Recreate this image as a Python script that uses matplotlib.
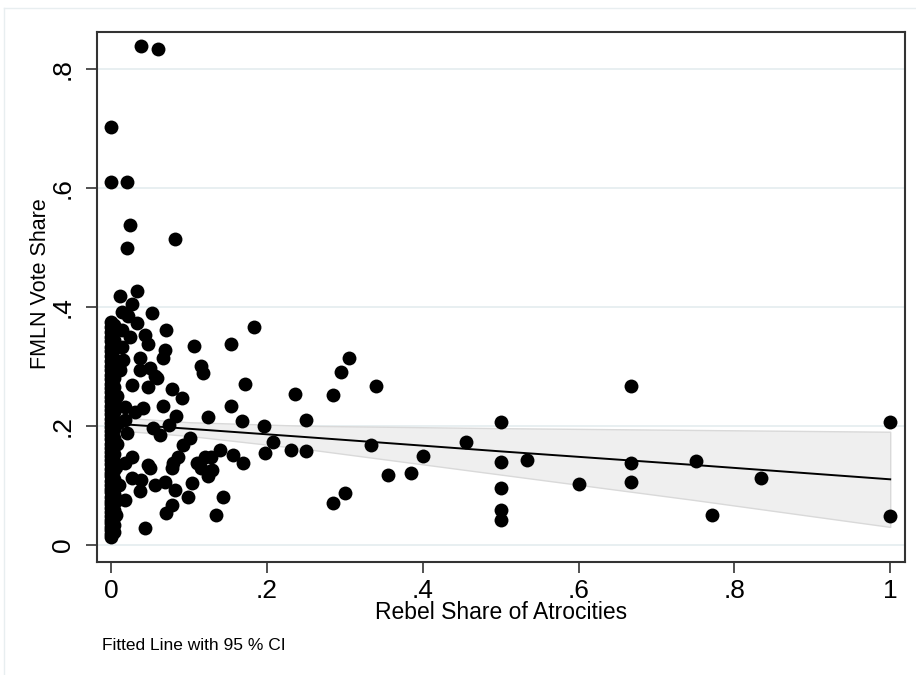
import numpy as np
import matplotlib.pyplot as plt
from matplotlib.lines import Line2D

plt.rcParams['font.family'] = ['Liberation Sans', 'DejaVu Sans']

# rebel share of atrocities (x) and FMLN vote share (y)
rebel_share = [
    # municipalities with zero rebel share
    0, 0, 0, 0, 0, 0, 0, 0, 0, 0, 0, 0, 0, 0, 0, 0, 0, 0,
    0, 0, 0, 0, 0, 0, 0, 0, 0, 0, 0, 0, 0, 0, 0, 0, 0, 0,
    0, 0, 0, 0, 0, 0, 0, 0, 0, 0, 0, 0, 0, 0, 0, 0, 0, 0,
    0.004, 0.004, 0.004, 0.004, 0.004, 0.004, 0.004, 0.004, 0.004, 0.004,
    0.004, 0.004, 0.004, 0.004, 0.004, 0.004, 0.004, 0.004, 0.004, 0.004,
    0.004, 0.004, 0.004, 0.004, 0.004, 0.004,
    0.006, 0.008, 0.008, 0.010, 0.009, 0.007, 0.010, 0.008,
    # close to zero
    0.012, 0.033, 0.027, 0.014, 0.022, 0.033, 0.014, 0.024, 0.014, 0.016,
    0.012, 0.037, 0.027, 0.018, 0.031, 0.018, 0.020, 0.027, 0.018, 0.027,
    0.018, 0.020, 0.024, 0.020,
    # small shares
    0.039, 0.060, 0.082,
    0.052, 0.071, 0.044, 0.048, 0.106, 0.069, 0.067, 0.037, 0.116, 0.118,
    0.050, 0.056, 0.048, 0.059, 0.078, 0.091, 0.067, 0.041, 0.084, 0.074,
    0.125, 0.054, 0.063, 0.101, 0.093, 0.140, 0.086, 0.121, 0.048, 0.080,
    0.110, 0.128, 0.050, 0.078, 0.039, 0.056, 0.069, 0.082, 0.037, 0.104,
    0.099, 0.078, 0.071, 0.125, 0.116, 0.044, 0.135, 0.144, 0.129,
    # middle
    0.184, 0.154, 0.172, 0.154, 0.236, 0.285, 0.295, 0.305, 0.340, 0.168,
    0.250, 0.196, 0.208, 0.198, 0.231, 0.250, 0.334, 0.355, 0.300, 0.285,
    0.157, 0.170,
    # large shares
    0.385, 0.401, 0.456, 0.500, 0.500, 0.500, 0.500, 0.500, 0.534, 0.601,
    0.667, 0.667, 0.667, 0.751, 0.771, 0.834, 1.000, 1.000,
]
fmln_vote = [
    0.013, 0.018, 0.024, 0.030, 0.036, 0.042, 0.049, 0.055, 0.061, 0.068,
    0.074, 0.081, 0.088, 0.094, 0.101, 0.108, 0.115, 0.121, 0.128, 0.135,
    0.142, 0.149, 0.156, 0.163, 0.170, 0.177, 0.184, 0.191, 0.198, 0.205,
    0.212, 0.220, 0.227, 0.234, 0.241, 0.249, 0.256, 0.263, 0.271, 0.278,
    0.286, 0.293, 0.301, 0.309, 0.317, 0.325, 0.333, 0.342, 0.350, 0.358,
    0.366, 0.375, 0.609, 0.703,
    0.021, 0.033, 0.046, 0.058, 0.071, 0.085, 0.098, 0.111, 0.125, 0.139,
    0.152, 0.166, 0.180, 0.194, 0.208, 0.223, 0.237, 0.252, 0.266, 0.281,
    0.297, 0.313, 0.329, 0.345, 0.362, 0.370,
    0.050, 0.250, 0.170, 0.100, 0.205, 0.130, 0.300, 0.075,
    0.418, 0.426, 0.405, 0.392, 0.384, 0.373, 0.361, 0.350, 0.333, 0.311,
    0.294, 0.293, 0.269, 0.232, 0.224, 0.210, 0.188, 0.148, 0.137, 0.112,
    0.076, 0.609, 0.538, 0.499,
    0.839, 0.833, 0.514,
    0.389, 0.361, 0.353, 0.338, 0.334, 0.327, 0.314, 0.314, 0.301, 0.289,
    0.297, 0.283, 0.266, 0.280, 0.262, 0.246, 0.234, 0.230, 0.216, 0.202,
    0.214, 0.197, 0.185, 0.179, 0.168, 0.160, 0.148, 0.148, 0.134, 0.137,
    0.137, 0.147, 0.129, 0.129, 0.109, 0.101, 0.106, 0.092, 0.090, 0.104,
    0.081, 0.067, 0.053, 0.115, 0.129, 0.029, 0.050, 0.081, 0.126,
    0.366, 0.338, 0.271, 0.234, 0.254, 0.252, 0.291, 0.314, 0.267, 0.208,
    0.210, 0.200, 0.173, 0.155, 0.159, 0.157, 0.168, 0.117, 0.087, 0.071,
    0.151, 0.138,
    0.120, 0.150, 0.172, 0.206, 0.139, 0.096, 0.059, 0.041, 0.143, 0.102,
    0.267, 0.138, 0.106, 0.140, 0.050, 0.113, 0.207, 0.048,
]

# fitted line and 95% CI band
fit_x = [0.0, 0.1, 0.25, 0.5, 0.75, 1.0]
fit_y = [0.204, 0.195, 0.181, 0.157, 0.134, 0.110]
ci_lo = [0.193, 0.183, 0.161, 0.118, 0.075, 0.030]
ci_hi = [0.215, 0.206, 0.200, 0.196, 0.193, 0.190]

xticks = [0, 0.2, 0.4, 0.6, 0.8, 1.0]
xlabels = ['0', '.2', '.4', '.6', '.8', '1']
yticks = [0, 0.2, 0.4, 0.6, 0.8]
ylabels = ['0', '.2', '.4', '.6', '.8']

fig = plt.figure(figsize=(9.16, 6.75), dpi=100)
ax = fig.add_axes([0.1059, 0.1674, 0.8821, 0.7852])

ax.fill_between(fit_x, ci_lo, ci_hi, facecolor='#efefef', edgecolor='#d9d9d9',
                linewidth=1, zorder=1)
ax.scatter(rebel_share, fmln_vote, s=100, color='black', linewidths=0, zorder=3)
ax.plot(fit_x, fit_y, color='black', linewidth=1.4, zorder=4)

ax.set_xlim(-0.018, 1.019)
ax.set_ylim(-0.029, 0.862)
ax.set_xticks(xticks)
ax.set_xticklabels(xlabels)
ax.set_yticks(yticks)
ax.set_yticklabels(ylabels, rotation=90, va='center')
ax.tick_params(direction='out', length=8, width=1.2, color='#333333',
               labelsize=19, pad=4)
ax.tick_params(axis='y', pad=8)
ax.grid(axis='y', color='#e6eef0', linewidth=1.3, zorder=0)
ax.set_axisbelow(True)
for sp in ax.spines.values():
    sp.set_color('#333333')
    sp.set_linewidth(1.5)

ax.set_xlabel('Rebel Share of Atrocities', fontsize=16.5, va='center')
ax.xaxis.set_label_coords(0.5, -0.096)
ax.set_ylabel('FMLN Vote Share', fontsize=15.5, va='center')
ax.yaxis.set_label_coords(-0.0705, 0.526)

fig.text(102 / 916, 1 - 646 / 675, 'Fitted Line with 95 % CI', fontsize=12.5,
         va='center', ha='left')

# faint outer border of the graph region
fig.add_artist(Line2D([4 / 916, 1], [1 - 8 / 675, 1 - 8 / 675], color='#e8eef0', lw=1))
fig.add_artist(Line2D([4 / 916, 4 / 916], [0, 1 - 8 / 675], color='#e8eef0', lw=1))

fig.savefig('out.png', dpi=100)
